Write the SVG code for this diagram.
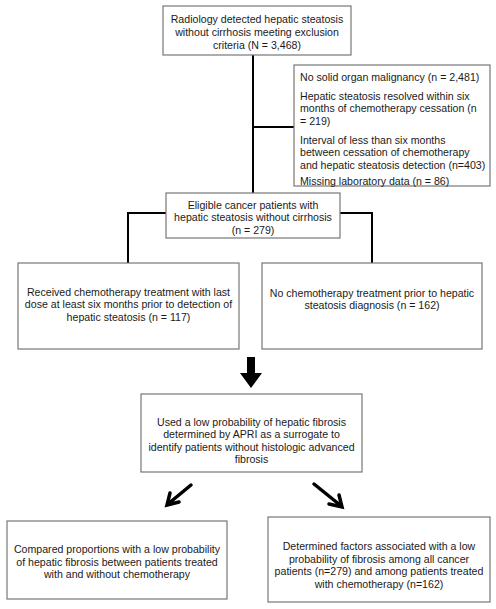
<svg xmlns="http://www.w3.org/2000/svg" width="496" height="609" viewBox="0 0 496 609">
<style>
.box{fill:#fff;stroke:#777;stroke-width:1.2}
.t{font-family:"Liberation Sans",Arial,sans-serif;font-size:10.6px;fill:#1a1a1a;text-anchor:middle}
.tl{font-family:"Liberation Sans",Arial,sans-serif;font-size:10.6px;fill:#1a1a1a;text-anchor:start}
.c{fill:none;stroke:#000;stroke-width:2}
.d{fill:none;stroke:#000;stroke-width:3.5;stroke-linecap:round;stroke-linejoin:miter}
</style>
<rect width="496" height="609" fill="#fff"/>
<g id="connectors">
<path class="c" d="M253 55V193M253 127H294"/>
<path class="c" d="M166 213H128V263M340 213H372V263"/>
<polygon points="247,357 255,357 255,373 262,373 251,388 240,373 247,373" fill="#000"/>
<path class="d" d="M191 485L168 504M179 502L167 505L170 493"/>
<path class="d" d="M314 484L340 505M329 504L342 507L339 495"/>
</g>
<g id="n1">
<rect class="box" x="163" y="6" width="188" height="49"/>
<text class="t" x="257" y="23">Radiology detected hepatic steatosis</text>
<text class="t" x="257" y="36">without cirrhosis meeting exclusion</text>
<text class="t" x="257" y="49">criteria (N = 3,468)</text>
</g>
<g id="exclusions">
<rect class="box" x="294" y="65" width="196" height="121"/>
<text class="tl" x="300" y="80.5">No solid organ malignancy (n = 2,481)</text>
<text class="tl" x="300" y="99.5">Hepatic steatosis resolved within six</text>
<text class="tl" x="300" y="112">months of chemotherapy cessation (n</text>
<text class="tl" x="300" y="124.5">= 219)</text>
<text class="tl" x="300" y="143.5">Interval of less than six months</text>
<text class="tl" x="300" y="156">between cessation of chemotherapy</text>
<text class="tl" x="300" y="168.5">and hepatic steatosis detection (n=403)</text>
<text class="tl" x="300" y="184.5">Missing laboratory data (n = 86)</text>
</g>
<g id="eligible">
<rect class="box" x="166" y="193" width="174" height="45"/>
<text class="t" x="253" y="208.5">Eligible cancer patients with</text>
<text class="t" x="253" y="221">hepatic steatosis without cirrhosis</text>
<text class="t" x="253" y="233.5">(n = 279)</text>
</g>
<g id="chemo">
<rect class="box" x="18" y="263" width="221" height="86"/>
<text class="t" x="128.5" y="295.5">Received chemotherapy treatment with last</text>
<text class="t" x="128.5" y="308">dose at least six months prior to detection of</text>
<text class="t" x="128.5" y="320.5">hepatic steatosis (n = 117)</text>
</g>
<g id="nochemo">
<rect class="box" x="262" y="263" width="220" height="86"/>
<text class="t" x="372" y="296.5">No chemotherapy treatment prior to hepatic</text>
<text class="t" x="372" y="309">steatosis diagnosis (n = 162)</text>
</g>
<g id="apri">
<rect class="box" x="141" y="394" width="221" height="78"/>
<text class="t" x="251.5" y="425.5">Used a low probability of hepatic fibrosis</text>
<text class="t" x="251.5" y="438">determined by APRI as a surrogate to</text>
<text class="t" x="251.5" y="450.5">identify patients without histologic advanced</text>
<text class="t" x="251.5" y="463">fibrosis</text>
</g>
<g id="compare">
<rect class="box" x="7" y="521" width="220" height="78"/>
<text class="t" x="117" y="553">Compared proportions with a low probability</text>
<text class="t" x="117" y="565.5">of hepatic fibrosis between patients treated</text>
<text class="t" x="117" y="578">with and without chemotherapy</text>
</g>
<g id="factors">
<rect class="box" x="268" y="517" width="222" height="85"/>
<text class="t" x="379" y="550">Determined factors associated with a low</text>
<text class="t" x="379" y="562.5">probability of fibrosis among all cancer</text>
<text class="t" x="379" y="575">patients (n=279) and among patients treated</text>
<text class="t" x="379" y="587.5">with chemotherapy (n=162)</text>
</g>
</svg>
